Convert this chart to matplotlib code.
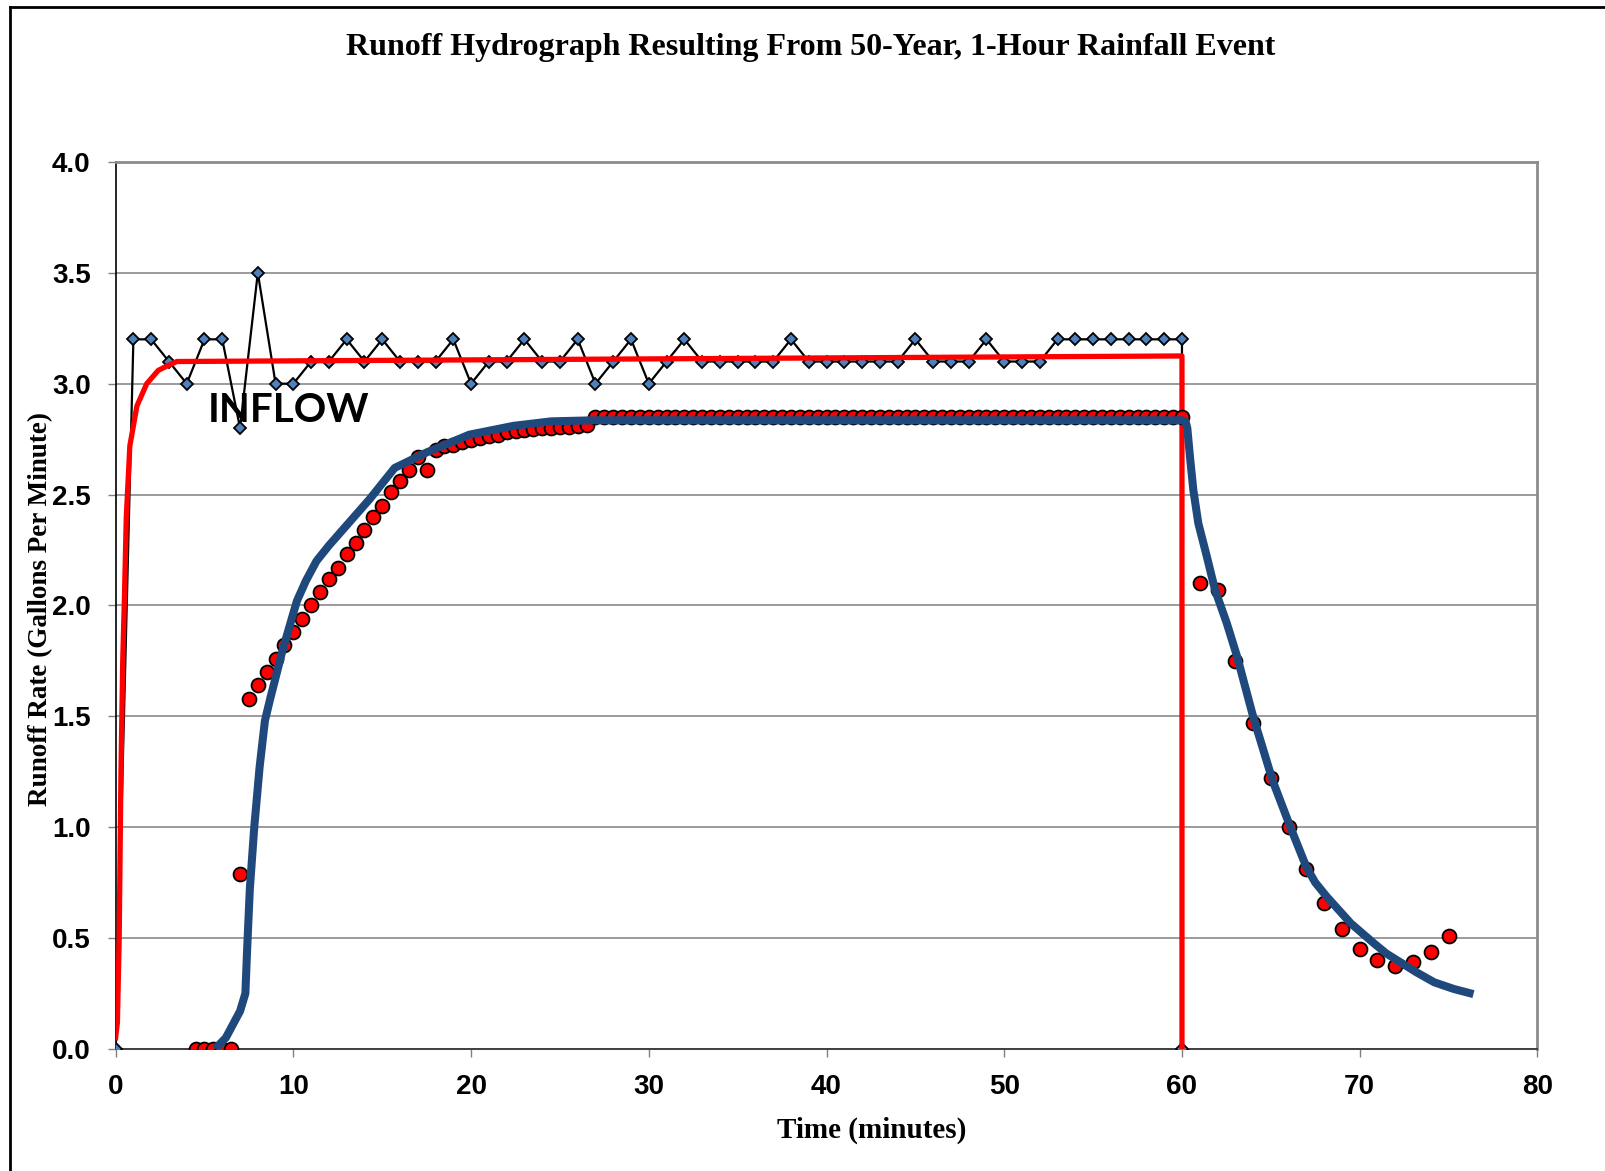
import matplotlib.pyplot as plt
from matplotlib.lines import Line2D

# measured inflow (diamonds), one reading per minute
obs_t = list(range(0, 61)) + [60]
obs_v = [0.0, 3.2, 3.2, 3.1, 3.0, 3.2, 3.2, 2.8, 3.5, 3.0,
         3.0, 3.1, 3.1, 3.2, 3.1, 3.2, 3.1, 3.1, 3.1, 3.2,
         3.0, 3.1, 3.1, 3.2, 3.1, 3.1, 3.2, 3.0, 3.1, 3.2,
         3.0, 3.1, 3.2, 3.1, 3.1, 3.1, 3.1, 3.1, 3.2, 3.1,
         3.1, 3.1, 3.1, 3.1, 3.1, 3.2, 3.1, 3.1, 3.1, 3.2,
         3.1, 3.1, 3.1, 3.2, 3.2, 3.2, 3.2, 3.2, 3.2, 3.2,
         3.2, 0.0]

# smoothed inflow (red line)
inflow_t = [0, 0.1, 0.2, 0.3, 0.4, 0.5, 0.6, 0.8, 1.2, 1.75, 2.4, 2.9, 3.45, 60, 60]
inflow_v = [0.05, 0.12, 0.5, 1.25, 1.75, 2.05, 2.4, 2.72, 2.9, 3.0, 3.06, 3.08, 3.10, 3.125, 0.0]

# measured runoff (red dots), every half minute up to 60, then every minute
run_t = [4.5 + 0.5 * i for i in range(112)] + list(range(61, 76))
run_v = [0.0, 0.0, 0.0, 0.0, 0.0, 0.79,
         1.58, 1.64, 1.70, 1.76, 1.82, 1.88, 1.94, 2.00, 2.06, 2.12,
         2.17, 2.23, 2.28, 2.34, 2.40, 2.45, 2.51, 2.56, 2.61, 2.67,
         2.61, 2.70, 2.72, 2.725, 2.735, 2.745, 2.755, 2.765, 2.77, 2.78,
         2.785, 2.79, 2.795, 2.80, 2.80, 2.805, 2.805, 2.81, 2.815,
         2.85, 2.85, 2.85, 2.85, 2.85, 2.85, 2.85, 2.85, 2.85, 2.85,
         2.85, 2.85, 2.85, 2.85, 2.85, 2.85, 2.85, 2.85, 2.85, 2.85,
         2.85, 2.85, 2.85, 2.85, 2.85, 2.85, 2.85, 2.85, 2.85, 2.85,
         2.85, 2.85, 2.85, 2.85, 2.85, 2.85, 2.85, 2.85, 2.85, 2.85,
         2.85, 2.85, 2.85, 2.85, 2.85, 2.85, 2.85, 2.85, 2.85, 2.85,
         2.85, 2.85, 2.85, 2.85, 2.85, 2.85, 2.85, 2.85, 2.85, 2.85,
         2.85, 2.85, 2.85, 2.85, 2.85, 2.85, 2.85,
         2.10, 2.07, 1.75, 1.47, 1.22, 1.00, 0.81, 0.66, 0.54, 0.45,
         0.40, 0.375, 0.39, 0.435, 0.51]

# model runoff (blue curve)
model_t = [5.6, 6.2, 7.0, 7.3, 7.4, 7.55, 7.8, 8.1, 8.4, 8.7, 9.4, 10.2, 10.7, 11.3,
           12.0, 14.3, 15.7, 17.5, 19.9, 22.4, 24.5, 27.0, 60.0, 60.2, 60.3, 60.45,
           60.64, 60.92, 61.4, 61.86, 62.52, 63.1, 64.0, 65.1, 66.1, 67.0, 67.5,
           68.15, 69.5, 70.8, 71.5, 72.3, 73.2, 74.2, 75.3, 76.4]
model_v = [0.0, 0.05, 0.17, 0.25, 0.45, 0.72, 1.0, 1.27, 1.48, 1.58, 1.8, 2.02, 2.11, 2.2,
           2.27, 2.48, 2.62, 2.69, 2.77, 2.81, 2.83, 2.835, 2.835, 2.83, 2.8, 2.67,
           2.52, 2.37, 2.22, 2.07, 1.92, 1.77, 1.5, 1.21, 1.0, 0.82, 0.75,
           0.686, 0.566, 0.476, 0.43, 0.39, 0.345, 0.30, 0.27, 0.247]

x_ticks = [0, 10, 20, 30, 40, 50, 60, 70, 80]
y_ticks = [0.0, 0.5, 1.0, 1.5, 2.0, 2.5, 3.0, 3.5, 4.0]

fig = plt.figure(figsize=(16.06, 11.71), dpi=100)
ax = fig.add_axes([0.0720, 0.1043, 0.8853, 0.7574])

ax.plot(obs_t, obs_v, color='black', lw=1.6, marker='D', ms=6.5,
        mfc='#4F81BD', mec='black', mew=1.3, zorder=3)
ax.plot(inflow_t, inflow_v, color='#FF0000', lw=3.8, zorder=4)
ax.plot(run_t, run_v, ls='none', marker='o', ms=10, mfc='#FF0000',
        mec='black', mew=1.3, zorder=5)
ax.plot(model_t, model_v, color='#1F497D', lw=5.8, zorder=6,
        solid_joinstyle='round', solid_capstyle='butt')

ax.text(9.75, 2.88, 'INFLOW', fontsize=29, fontweight='bold', family='Lato',
        ha='center', va='center', zorder=7)

ax.set_xlim(0, 80)
ax.set_ylim(0, 4)
ax.set_xticks(x_ticks)
ax.set_yticks(y_ticks)
ax.set_xticklabels([str(v) for v in x_ticks], fontsize=20, fontweight='bold',
                   family='Liberation Sans')
ax.set_yticklabels(['%.1f' % v for v in y_ticks], fontsize=20, fontweight='bold',
                   family='Liberation Sans')
ax.tick_params(axis='both', direction='out', length=6, width=1, color='#808080')
ax.tick_params(axis='x', pad=12)
ax.tick_params(axis='y', pad=12)
ax.yaxis.grid(True, color='#808080', lw=1.1)
ax.set_axisbelow(True)

ax.spines['left'].set_color('black')
ax.spines['left'].set_linewidth(1.2)
ax.spines['bottom'].set_color('#404040')
ax.spines['bottom'].set_linewidth(1.4)
for s in ['top', 'right']:
    ax.spines[s].set_color('#8C8C8C')
    ax.spines[s].set_linewidth(2)

fig.text(811 / 1606, 1 - 47 / 1171,
         'Runoff Hydrograph Resulting From 50-Year, 1-Hour Rainfall Event',
         fontsize=23, fontweight='bold', family='Liberation Serif',
         ha='center', va='center')
fig.text(872 / 1606, 1 - 1130 / 1171, 'Time (minutes)', fontsize=21,
         fontweight='bold', family='Liberation Serif', ha='center', va='center')
fig.text(41 / 1606, 1 - 609 / 1171, 'Runoff Rate (Gallons Per Minute)', fontsize=19.5,
         fontweight='bold', family='Liberation Serif', ha='center', va='center',
         rotation=90)

# outer chart border (left and top edges visible)
fig.add_artist(Line2D([10 / 1606, 10 / 1606], [0, 1 - 7 / 1171], color='black', lw=2,
                      transform=fig.transFigure))
fig.add_artist(Line2D([10 / 1606, 1], [1 - 7 / 1171, 1 - 7 / 1171], color='black', lw=2,
                      transform=fig.transFigure))

fig.savefig('out.png', dpi=100)
